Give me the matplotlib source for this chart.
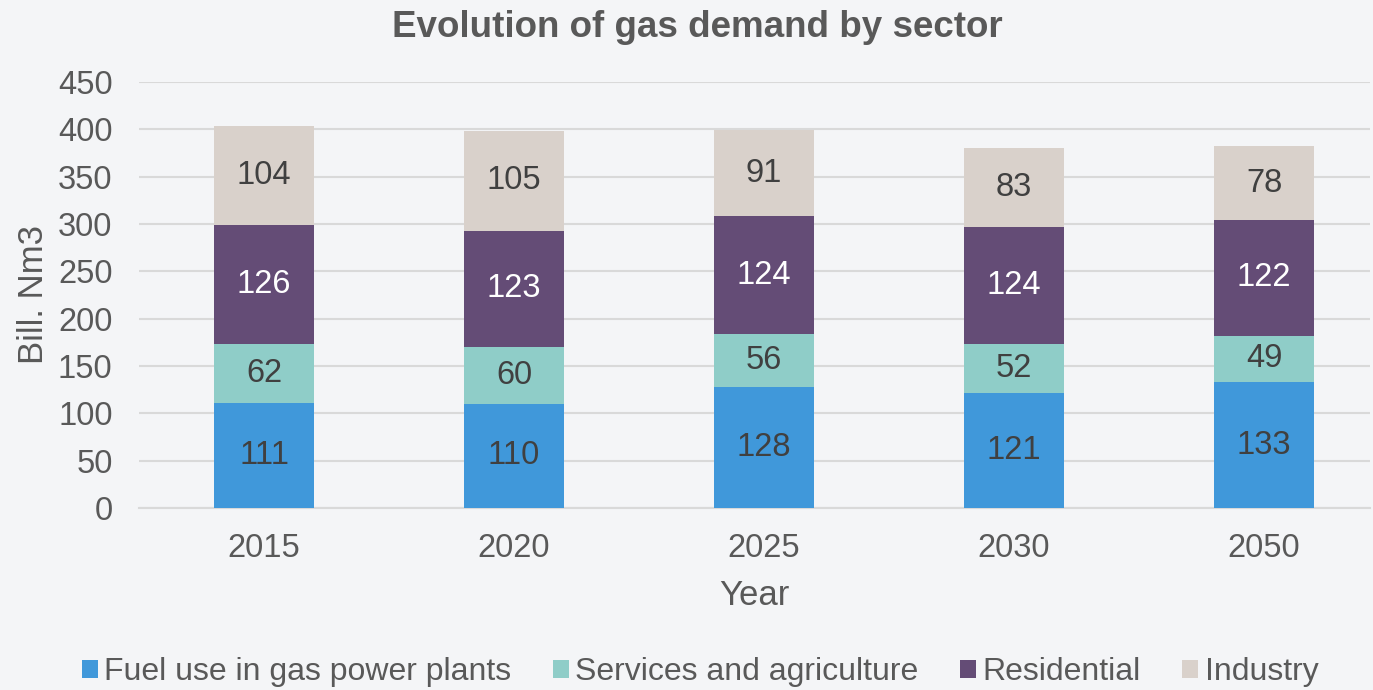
import numpy as np
import matplotlib.pyplot as plt

plt.rcParams['font.family'] = ['Liberation Sans', 'DejaVu Sans']

years = ['2015', '2020', '2025', '2030', '2050']
sectors = ['Fuel use in gas power plants', 'Services and agriculture', 'Residential', 'Industry']
fuel = [111, 110, 128, 121, 133]
services = [62, 60, 56, 52, 49]
residential = [126, 123, 124, 124, 122]
industry = [104, 105, 91, 83, 78]

colors = ['#4098DA', '#8FCDC8', '#644C76', '#D9D1CB']
label_colors = ['#404040', '#404040', 'white', '#404040']
bg = '#F4F5F7'
txt = '#595959'

W, H = 1373, 690
fig = plt.figure(figsize=(W / 100, H / 100), dpi=100, facecolor=bg)
# axes from x=139 to 1370 px, y=82 to 508 px
ax = fig.add_axes([139 / W, (H - 508) / H, (1370 - 139) / W, (508 - 82) / H], facecolor=bg)

x = np.arange(len(years))
bottom = np.zeros(len(years))
for vals, col, lc, name in zip([fuel, services, residential, industry], colors, label_colors, sectors):
    bars = ax.bar(x, vals, width=0.4, bottom=bottom, color=col, label=name, zorder=3)
    ax.bar_label(bars, labels=[str(v) for v in vals], label_type='center',
                 color=lc, fontsize=23.5)
    bottom += np.array(vals)

ax.set_ylim(0, 450)
# 250 px per category, first centre 125 px from the left edge
ax.set_xlim(-0.5, -0.5 + (1370 - 139) / 250)
ax.set_yticks(np.arange(0, 451, 50))
ax.set_xticks(x)
ax.set_xticklabels(years)
ax.tick_params(axis='both', length=0, labelsize=23.5, colors=txt)
ax.tick_params(axis='x', pad=18)
ax.tick_params(axis='y', pad=19)
ax.yaxis.grid(True, color='#D9D9D9', linewidth=1.5, zorder=0)
for s in ['top', 'right', 'left']:
    ax.spines[s].set_visible(False)
ax.spines['bottom'].set_color('#D9D9D9')
ax.spines['bottom'].set_linewidth(1.5)

ax.set_xlabel('Year', fontsize=25, color=txt, labelpad=11)
ax.set_ylabel('Bill. Nm3', fontsize=25, color=txt, labelpad=6)
fig.suptitle('Evolution of gas demand by sector', fontsize=26.5, fontweight='bold',
             color=txt, x=0.508, y=0.985)

fig.legend(loc='lower center', bbox_to_anchor=(0.51, -0.038), ncol=4, frameon=False,
           fontsize=23, labelcolor=txt, handlelength=0.5, handleheight=0.5,
           handletextpad=0.2, columnspacing=1.3)

fig.savefig('out.png', dpi=100, facecolor=bg)
